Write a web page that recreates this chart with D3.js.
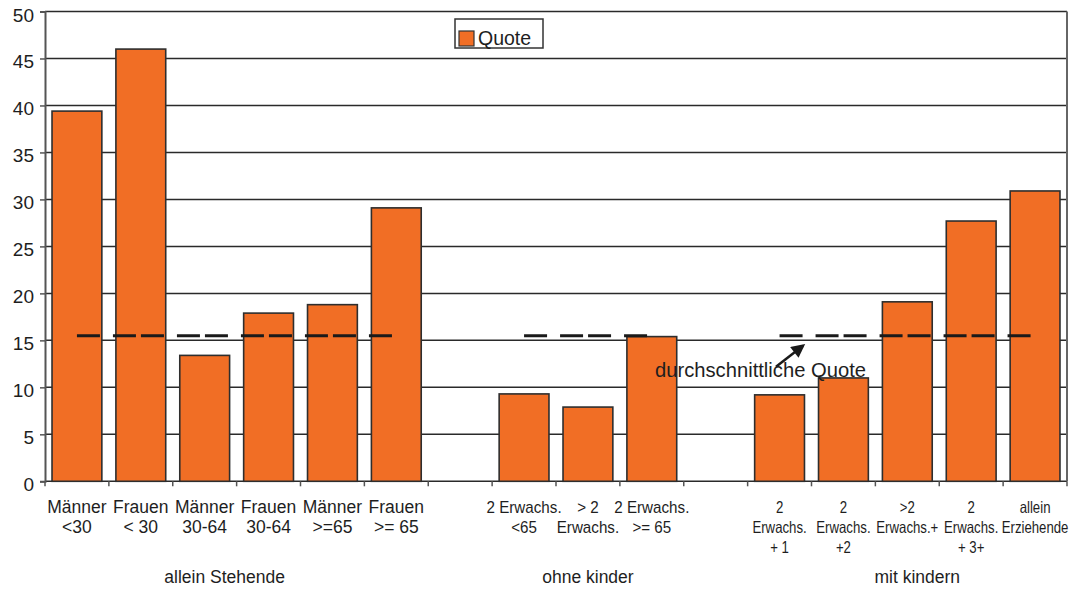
<!DOCTYPE html>
<html>
<head>
<meta charset="utf-8">
<script src="https://cdn.jsdelivr.net/npm/d3@7"></script>
<style>
  html, body { margin: 0; padding: 0; background: #fff; }
  svg { display: block; font-family: "Liberation Sans", Arial, Helvetica, sans-serif; }
</style>
</head>
<body>
<svg id="chart" width="1076" height="589"></svg>
<script>
// Category labels (lines separated by "\n"); empty strings are spacer slots between groups
const categories = [
  "Männer\n<30", "Frauen\n< 30", "Männer\n30-64", "Frauen\n30-64", "Männer\n>=65", "Frauen\n>= 65",
  "",
  "2 Erwachs.\n<65", "> 2\nErwachs.", "2 Erwachs.\n>= 65",
  "",
  "2\nErwachs.\n+ 1", "2\nErwachs.\n+2", ">2\nErwachs.+", "2\nErwachs.\n+ 3+", "allein\nErziehende"
];
// Quote per category (null = spacer)
const quote = [39.4, 46.0, 13.4, 17.9, 18.8, 29.1, null, 9.3, 7.9, 15.4, null, 9.2, 11.0, 19.1, 27.7, 30.9];
// Average quote, shown for every category of each group
const durchschnitt = [15.5, 15.5, 15.5, 15.5, 15.5, 15.5, null, 15.5, 15.5, 15.5, null, 15.5, 15.5, 15.5, 15.5, 15.5];
// Group of each category (-1 = spacer)
const groupOf = [0, 0, 0, 0, 0, 0, -1, 1, 1, 1, -1, 2, 2, 2, 2, 2];
const groupNames = ["allein Stehende", "ohne kinder", "mit kindern"];
const yTicks = [0, 5, 10, 15, 20, 25, 30, 35, 40, 45, 50];
const seriesName = "Quote";
const annotation = "durchschnittliche Quote";

(function draw() {
  const svg = d3.select("#chart");
  const plotLeft = 45, plotRight = 1067, plotTop = 11.5, plotBottom = 481.3;
  const orange = "#f16e25";
  const ink = "#1e1e1e";

  const x = d3.scaleBand()
    .domain(d3.range(categories.length))
    .range([plotLeft, plotRight])
    .paddingInner(0.22)
    .paddingOuter(0.11);
  const step = x.step();
  const cx = i => x(i) + x.bandwidth() / 2;

  const y = d3.scaleLinear().domain([0, 50]).range([plotBottom, plotTop]);

  // Horizontal gridlines
  svg.append("g").selectAll("line").data(yTicks).join("line")
    .attr("x1", plotLeft).attr("x2", plotRight)
    .attr("y1", d => y(d)).attr("y2", d => y(d))
    .attr("stroke", "#2a2a2a").attr("stroke-width", 1.5);

  // Bars
  svg.append("g").selectAll("rect")
    .data(quote.map((v, i) => ({ v, i })).filter(d => d.v !== null))
    .join("rect")
    .attr("x", d => x(d.i))
    .attr("width", x.bandwidth())
    .attr("y", d => y(d.v))
    .attr("height", d => y(0) - y(d.v))
    .attr("fill", orange)
    .attr("stroke", "#2e2e2e")
    .attr("stroke-width", 1.6);

  // Y axis
  const yAxis = d3.axisLeft(y).tickValues(yTicks).tickSize(5).tickPadding(6);
  const gy = svg.append("g").attr("transform", `translate(${plotLeft},0)`).call(yAxis);
  gy.select(".domain").attr("stroke", "#555").attr("stroke-width", 2);
  gy.selectAll(".tick line").attr("stroke", "#555").attr("stroke-width", 1.5);
  gy.selectAll(".tick text")
    .attr("font-size", 19).attr("fill", ink)
    .attr("dy", "0.5em")
    .attr("font-family", "Liberation Sans, Arial, sans-serif");

  // Right border
  svg.append("line")
    .attr("x1", plotRight).attr("x2", plotRight).attr("y1", y(50)).attr("y2", y(0))
    .attr("stroke", "#666").attr("stroke-width", 2);

  // X axis ticks at slot boundaries
  const boundaries = d3.range(categories.length + 1).map(k => plotLeft + k * step);
  svg.append("g").selectAll("line").data(boundaries).join("line")
    .attr("x1", d => d).attr("x2", d => d)
    .attr("y1", y(0)).attr("y2", y(0) + 5)
    .attr("stroke", "#555").attr("stroke-width", 1.5);

  // Category labels, styled per group
  const labelStyle = [
    { size: 17.5, sx: 1.0 },
    { size: 16, sx: 0.95 },
    { size: 16.5, sx: 0.8 }
  ];
  const catG = svg.append("g");
  categories.forEach((lab, i) => {
    if (!lab) return;
    const st = labelStyle[groupOf[i]];
    const t = catG.append("text")
      .attr("transform", `translate(${cx(i)},${plotBottom + 31.5}) scale(${st.sx},1)`)
      .attr("text-anchor", "middle")
      .attr("font-size", st.size)
      .attr("fill", ink);
    lab.split("\n").forEach((line, k) => {
      t.append("tspan").attr("x", 0).attr("y", k * 20).text(line);
    });
  });

  // Group labels, centred under their categories
  const groupShift = [-12, 0, 10];
  groupNames.forEach((name, g) => {
    const idx = d3.range(categories.length).filter(i => groupOf[i] === g);
    const mid = (cx(idx[0]) + cx(idx[idx.length - 1])) / 2 + groupShift[g];
    svg.append("text")
      .attr("x", mid).attr("y", 583)
      .attr("text-anchor", "middle")
      .attr("font-size", 17.5)
      .attr("fill", ink)
      .text(name);
  });

  // Average line, one dashed run per group
  const avgLine = d3.line()
    .defined(d => d.v !== null)
    .x(d => cx(d.i))
    .y(d => y(d.v));
  groupNames.forEach((_, g) => {
    const pts = durchschnitt.map((v, i) => ({ v, i })).filter(d => groupOf[d.i] === g);
    svg.append("path")
      .attr("d", avgLine(pts))
      .attr("fill", "none")
      .attr("stroke", "#1a1a1a")
      .attr("stroke-width", 3)
      .attr("stroke-dasharray", "23,13,23,5");
  });

  // Legend
  const lg = svg.append("g").attr("transform", "translate(455,19)");
  lg.append("rect").attr("width", 88).attr("height", 29)
    .attr("fill", "#fff").attr("stroke", "#333").attr("stroke-width", 1.5);
  lg.append("rect").attr("x", 4).attr("y", 12).attr("width", 15).attr("height", 15)
    .attr("fill", orange).attr("stroke", "#333").attr("stroke-width", 1.2);
  lg.append("text").attr("x", 23).attr("y", 26)
    .attr("font-size", 19.5).attr("fill", ink).text(seriesName);

  // Annotation with arrow pointing at the average line
  const defs = svg.append("defs");
  defs.append("marker")
    .attr("id", "arrowhead")
    .attr("viewBox", "0 0 10 10")
    .attr("refX", 8).attr("refY", 5)
    .attr("markerWidth", 6).attr("markerHeight", 5.5)
    .attr("markerUnits", "strokeWidth")
    .attr("orient", "auto")
    .append("path").attr("d", "M0,0 L10,5 L0,10 Z").attr("fill", "#1a1a1a");

  const avgY = y(15.5);
  svg.append("line")
    .attr("x1", 776).attr("y1", avgY + 31)
    .attr("x2", 803).attr("y2", avgY + 10)
    .attr("stroke", "#1a1a1a").attr("stroke-width", 2.5)
    .attr("marker-end", "url(#arrowhead)");

  svg.append("text")
    .attr("x", 655).attr("y", 377)
    .attr("font-size", 20.2)
    .attr("fill", ink)
    .text(annotation);
})();
</script>
</body>
</html>
